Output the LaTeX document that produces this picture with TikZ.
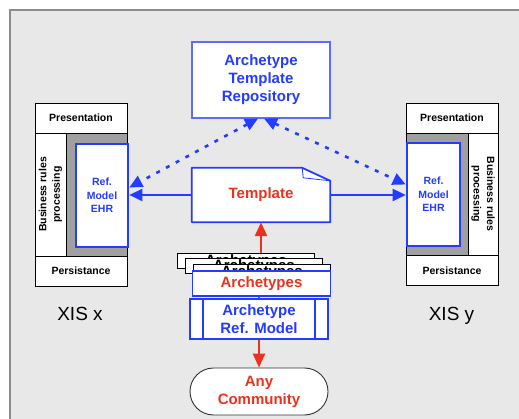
\documentclass[tikz,border=0pt]{standalone}
\usepackage{fontspec}
\setmainfont{Liberation Sans}
\usetikzlibrary{arrows.meta,shapes.misc}
\definecolor{refblue}{RGB}{35,60,255}
\definecolor{refred}{RGB}{235,50,30}
\definecolor{panelgray}{RGB}{232,232,232}
\definecolor{coregray}{RGB}{160,160,160}
\pgfdeclarelayer{back}
\pgfsetlayers{back,main}

\begin{document}
\begin{tikzpicture}[x=1pt,y=-1pt,
  layerbox/.style={rectangle, draw=black, line width=0.9pt, fill=white, inner sep=0pt, align=center, font=\bfseries\fontsize{10.5}{13.5}\selectfont},
  refbox/.style={rectangle, draw=refblue, line width=2.6pt, fill=white, inner sep=0pt, align=center, text=refblue, font=\bfseries\fontsize{10.5}{13.5}\selectfont},
  bigtext/.style={font=\bfseries\fontsize{15}{18}\selectfont, align=center},
  bluebox/.style={rectangle, draw=refblue, line width=1.8pt, fill=white, inner sep=0pt, bigtext},
  cardbox/.style={rectangle, draw=black, line width=0.8pt, fill=white, anchor=north west, minimum width=137pt, inner xsep=0pt, inner ysep=1.5pt, text height=10.5pt, text depth=2pt, bigtext},
  xislabel/.style={anchor=base, font=\fontsize{19}{22}\selectfont},
  blueflow/.style={draw=refblue, line width=2.6pt, -{Triangle[length=13pt,width=12pt]}},
  bluedots/.style={draw=refblue, line width=2.6pt, dash pattern=on 4pt off 7pt, {Triangle[length=13pt,width=12pt]}-{Triangle[length=13pt,width=12pt]}},
  redflow/.style={draw=refred, line width=2.6pt, -{Triangle[length=14pt,width=12pt]}}]
  \useasboundingbox (0,0) rectangle (519,419);

  \node[bluebox, draw=refblue!75, line width=1.1pt, text=refblue, minimum width=138pt, minimum height=76pt] (repo) at (261,80) {Archetype\\Template\\Repository};

  \node[layerbox, minimum width=92pt, minimum height=30pt] (lpres) at (81,118) {Presentation};
  \node[layerbox, rotate=90, minimum width=123pt, minimum height=31pt] (lbiz) at (50.5,194.5) {Business rules\\processing};
  \node[layerbox, fill=coregray, minimum width=61pt, minimum height=123pt] (lcore) at (96.5,194.5) {};
  \node[layerbox, minimum width=92pt, minimum height=30pt] (lpers) at (81,271) {Persistance};
  \node[refbox, minimum width=52pt, minimum height=103pt] (lref) at (102,195.5) {Ref.\\Model\\EHR};
  \node[xislabel] (xisx) at (80,320) {XIS x};

  \node[layerbox, minimum width=92pt, minimum height=30pt] (rpres) at (452,118) {Presentation};
  \node[layerbox, rotate=-90, minimum width=122pt, minimum height=30pt] (rbiz) at (483,194) {Business rules\\processing};
  \node[layerbox, fill=coregray, minimum width=62pt, minimum height=122pt] (rcore) at (437,194) {};
  \node[layerbox, minimum width=92pt, minimum height=30pt] (rpers) at (452,270.5) {Persistance};
  \node[refbox, minimum width=53pt, minimum height=103pt] (rref) at (433.5,194.5) {Ref.\\Model\\EHR};
  \node[xislabel] (xisy) at (451.5,320) {XIS y};

  \node[bigtext, text=refred, minimum width=138pt, minimum height=54pt, inner sep=0pt] (tpl) at (261,195) {Template};

  \node[cardbox] (card1) at (177,253) {Archetypes};
  \node[cardbox] (card2) at (185,258) {Archetypes};
  \node[cardbox] (card3) at (193,264) {Archetypes};
  \node[bluebox, text=refred, minimum width=138pt, minimum height=25pt] (arch) at (261.5,283.5) {Archetypes};
  \node[bluebox, text=refblue, minimum width=138pt, minimum height=40pt] (arm) at (259,319) {Archetype\\Ref. Model};
  \draw[refblue, line width=1.8pt] ([xshift=14pt]arm.north west) -- ([xshift=14pt]arm.south west);
  \draw[refblue, line width=1.8pt] ([xshift=-14pt]arm.north east) -- ([xshift=-14pt]arm.south east);
  \node[rounded rectangle, draw=black!80, line width=0.9pt, fill=white, text=refred, bigtext, minimum width=138pt, minimum height=47pt, inner sep=0pt] (any) at (259,391.5) {Any\\Community};

  \draw[blueflow] (tpl.west) -- (lref.east |- tpl.west);
  \draw[blueflow] (tpl.east) -- (rref.west |- tpl.east);
  \draw[bluedots] ([xshift=-3pt]repo.south) -- ([yshift=8pt]lref.east);
  \draw[bluedots] ([xshift=3pt]repo.south) -- ([yshift=10pt]rref.west);

  \draw[redflow] (tpl.south |- card1.north) -- (tpl.south);
  \draw[refred, line width=2.4pt] (arm.north) -- (arm.north |- arch.south);
  \draw[redflow] (arm.south) -- (any.north);

  \begin{pgfonlayer}{back}
    \fill[panelgray] (10,10) rectangle (519,419);
    \draw[black!45, line width=1.5pt] (10,419) -- (10,10) -- (519,10);
    \draw[refblue, line width=1.8pt, fill=white, line join=round] (tpl.south west) -- (tpl.north west) -- ([xshift=-28pt]tpl.north east) -- ([yshift=-13pt]tpl.north east) -- (tpl.south east) -- cycle;
    \draw[refblue, line width=0.8pt] ([xshift=-28pt]tpl.north east) -- ([xshift=-27pt,yshift=-10pt]tpl.north east) -- ([yshift=-13pt]tpl.north east);
  \end{pgfonlayer}
\end{tikzpicture}
\end{document}
